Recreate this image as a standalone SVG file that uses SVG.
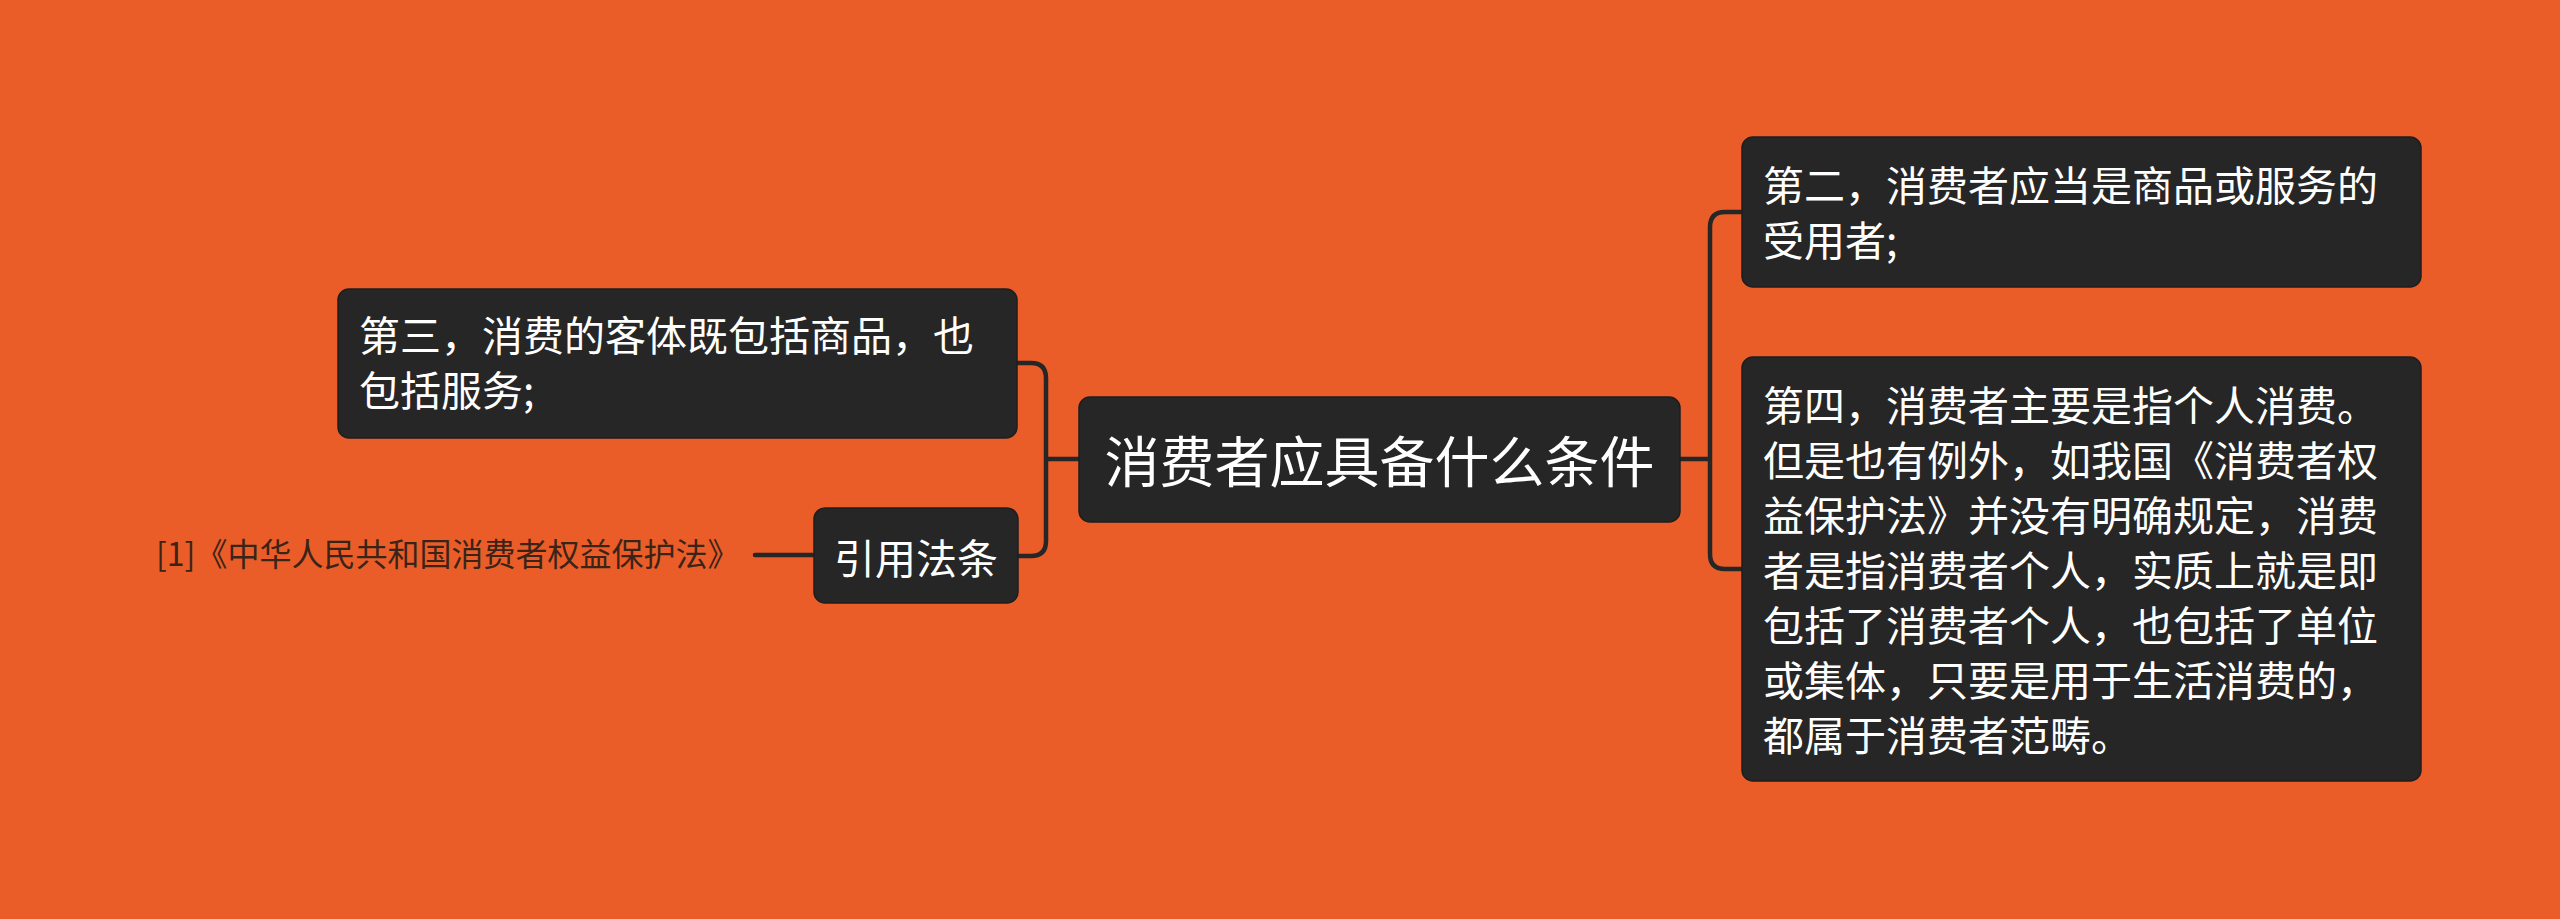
<svg xmlns="http://www.w3.org/2000/svg" width="2560" height="919" viewBox="0 0 2560 919">
<style>
.bg{fill:#EA5D28}
.box{fill:#262626;stroke:#1e1e1e;stroke-width:1.5}
.t{font-family:"Noto Sans CJK SC","Noto Sans",sans-serif;fill:#ffffff}
.c{fill:none;stroke:#262626;stroke-width:4.5;stroke-linecap:round}
.ref{font-family:"Noto Sans CJK SC","Noto Sans",sans-serif;fill:#3a2418;font-size:32px}
</style>
<rect class="bg" x="0" y="0" width="2560" height="919"/>
<g id="connectors">
<path class="c" d="M1079 459 H1046 M1046 459 V378 Q1046 363 1031 363 H1017 M1046 459 V541 Q1046 556 1031 556 H1018"/>
<path class="c" d="M1680 459 H1710 M1710 459 V227 Q1710 212 1725 212 H1742 M1710 459 V554 Q1710 569 1725 569 H1742"/>
<path class="c" d="M755 555 H813"/>
</g>
<g id="central">
<rect class="box" x="1079" y="397" width="601" height="125" rx="11"/>
<text class="t" x="1379.5" y="482" font-size="55" text-anchor="middle">消费者应具备什么条件</text>
</g>
<g id="node-2">
<rect class="box" x="1742" y="137" width="679" height="150" rx="11"/>
<text class="t" font-size="41"><tspan x="1763" y="201">第二，消费者应当是商品或服务的</tspan><tspan x="1763" y="256">受用者;</tspan></text>
</g>
<g id="node-4">
<rect class="box" x="1742" y="357" width="679" height="424" rx="11"/>
<text class="t" font-size="41"><tspan x="1763" y="421">第四，消费者主要是指个人消费。</tspan><tspan x="1763" y="476">但是也有例外，如我国《消费者权</tspan><tspan x="1763" y="531">益保护法》并没有明确规定，消费</tspan><tspan x="1763" y="586">者是指消费者个人，实质上就是即</tspan><tspan x="1763" y="641">包括了消费者个人，也包括了单位</tspan><tspan x="1763" y="696">或集体，只要是用于生活消费的，</tspan><tspan x="1763" y="751">都属于消费者范畴。</tspan></text>
</g>
<g id="node-3">
<rect class="box" x="338" y="289" width="679" height="149" rx="11"/>
<text class="t" font-size="41"><tspan x="359" y="351">第三，消费的客体既包括商品，也</tspan><tspan x="359" y="406">包括服务;</tspan></text>
</g>
<g id="node-cite">
<rect class="box" x="814" y="508" width="204" height="95" rx="11"/>
<text class="t" x="916" y="574" font-size="41" text-anchor="middle">引用法条</text>
</g>
<g id="ref-1">
<text class="ref" x="156" y="566">[1]《中华人民共和国消费者权益保护法》</text>
</g>
</svg>
